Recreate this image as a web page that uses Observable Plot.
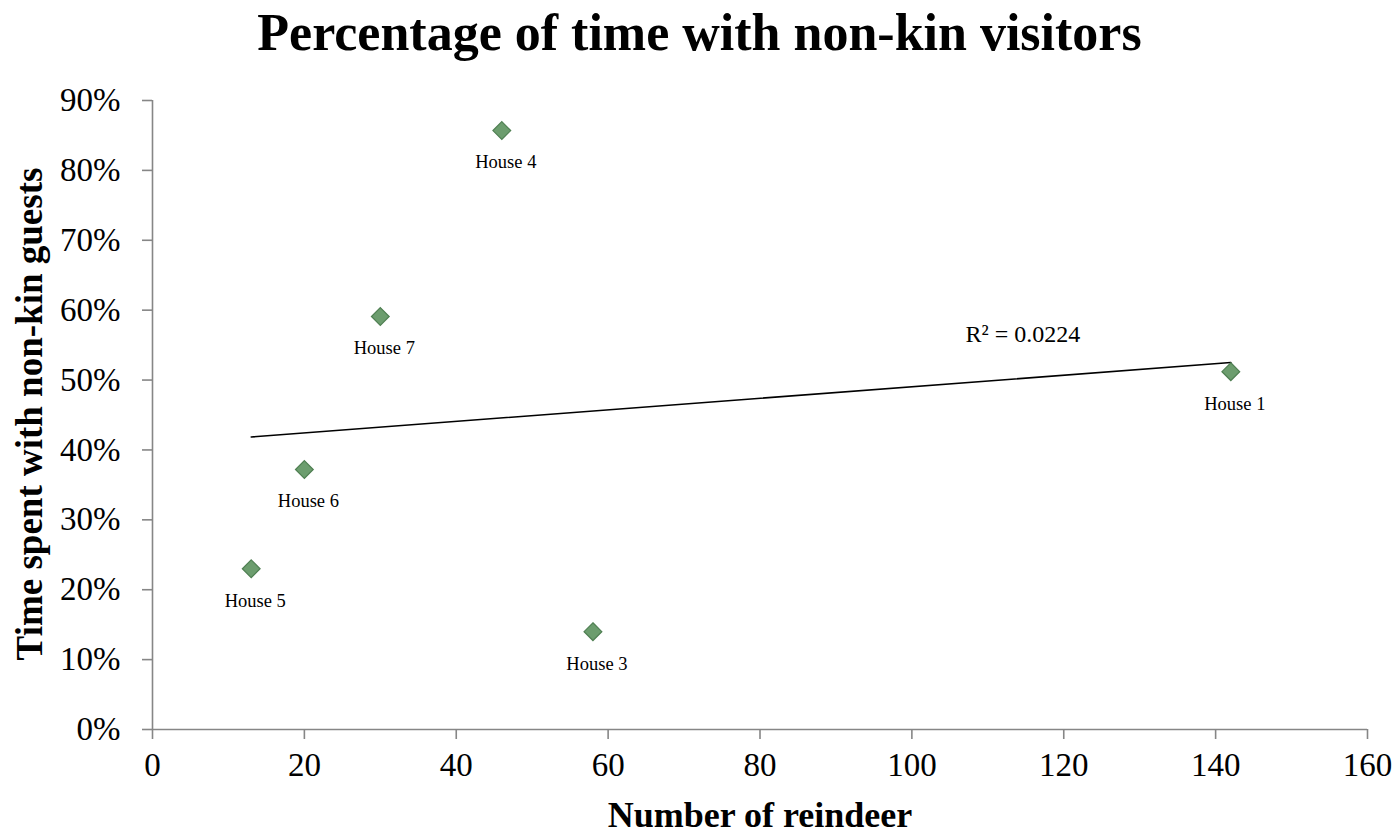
<!DOCTYPE html>
<html>
<head>
<meta charset="utf-8">
<script src="https://cdn.jsdelivr.net/npm/d3@7"></script>
<script src="https://cdn.jsdelivr.net/npm/@observablehq/plot@0.6"></script>
<style>
  html, body { margin: 0; padding: 0; background: #fff; }
  body { position: relative; width: 1399px; height: 833px; overflow: hidden; font-family: "Liberation Serif", "DejaVu Serif", serif; }
  #title { position: absolute; left: 0; top: 0; width: 1399px; height: 70px; line-height: 66px; text-align: center; font-size: 52px; font-weight: bold; color: #000; z-index: 2; }
  #chart svg { display: block; }
</style>
</head>
<body>
<div id="title">Percentage of time with non-kin visitors</div>
<div id="chart"></div>
<script>
const houses = ["House 1", "House 3", "House 4", "House 5", "House 6", "House 7"];
const reindeer = [142, 58, 46, 13, 20, 30];
const nonKinShare = [0.512, 0.140, 0.857, 0.230, 0.372, 0.591];
const yTicks = [0, 0.1, 0.2, 0.3, 0.4, 0.5, 0.6, 0.7, 0.8, 0.9];
const xTicks = [0, 20, 40, 60, 80, 100, 120, 140, 160];
const r2Label = ["R² = 0.0224"];
const xLabel = "Number of reindeer";
const yLabel = "Time spent with non-kin guests";

const data = houses.map((h, i) => ({house: h, x: reindeer[i], y: nonKinShare[i]}));

// least-squares fit, used to anchor the R² annotation near the line's end
const mx = d3.mean(reindeer), my = d3.mean(nonKinShare);
const slope = d3.sum(data, d => (d.x - mx) * (d.y - my)) / d3.sum(data, d => (d.x - mx) ** 2);
const xEnd = d3.max(reindeer);
const annot = [{x: xEnd, y: my + slope * (xEnd - mx), text: r2Label[0]}];

const serif = "Liberation Serif, DejaVu Serif, serif";
const axisGray = "#868686";

const chart = Plot.plot({
  width: 1399,
  height: 833,
  marginLeft: 152,
  marginRight: 32,
  marginTop: 100,
  marginBottom: 104,
  style: {fontFamily: serif, color: "#000", background: "#fff"},
  x: {domain: [0, 160], label: null},
  y: {domain: [0, 0.9], label: null},
  marks: [
    Plot.ruleX([0], {stroke: axisGray, strokeWidth: 1.6}),
    Plot.ruleY([0], {stroke: axisGray, strokeWidth: 1.6}),
    Plot.axisY({ticks: yTicks, tickFormat: d3.format(".0%"), tickSize: 10, tickPadding: 22, fontSize: 33, stroke: axisGray, strokeWidth: 1.6, label: null, fill: "#000"}),
    Plot.axisX({ticks: xTicks, tickSize: 10, tickPadding: 13, fontSize: 33, stroke: axisGray, strokeWidth: 1.6, label: null, fill: "#000"}),
    Plot.linearRegressionY(data, {x: "x", y: "y", ci: 0, stroke: "#000", strokeWidth: 1.6}),
    Plot.dot(data, {x: "x", y: "y", symbol: "diamond2", r: 8, fill: "#6c9d6e", stroke: "#4f7f52", strokeWidth: 1.2}),
    Plot.text(data, {x: "x", y: "y", text: "house", dy: 32, dx: 4, fontSize: 18.5, fill: "#000"}),
    Plot.text(annot, {x: "x", y: "y", text: "text", dx: -208, dy: -28, fontSize: 24, fill: "#000"}),
    Plot.text([xLabel], {frameAnchor: "bottom", dy: 97, fontSize: 36, fontWeight: "bold", fill: "#000"}),
    Plot.text([yLabel], {frameAnchor: "left", textAnchor: "middle", dx: -122, dy: -1, rotate: -90, fontSize: 37, fontWeight: "bold", fill: "#000"})
  ]
});
document.getElementById("chart").appendChild(chart);
</script>
</body>
</html>
